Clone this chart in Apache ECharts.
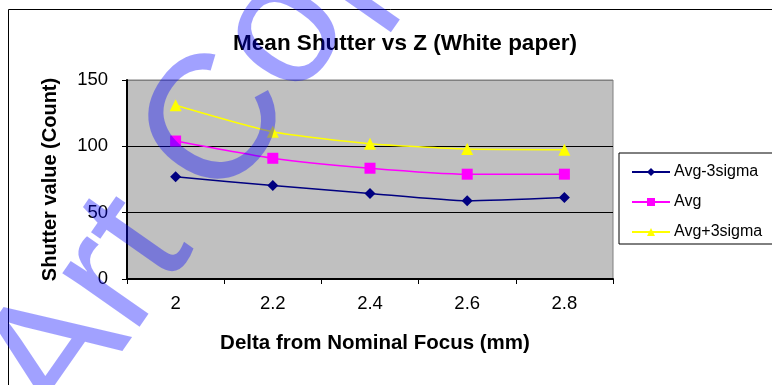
<!DOCTYPE html>
<html>
<head>
<meta charset="utf-8">
<style>
  html, body { margin: 0; padding: 0; background: #fff; }
  #chart { width: 772px; height: 385px; }
</style>
<script src="https://cdn.jsdelivr.net/npm/echarts@6/dist/echarts.min.js"></script>
</head>
<body>
<div id="chart"></div>
<script>
// Focus offsets (mm) along the category axis
const focusDelta = ['2', '2.2', '2.4', '2.6', '2.8'];

// Shutter values (count) per series
const avgMinus3Sigma = [77, 70.5, 64.5, 59, 61.5];
const avgValues = [104, 91, 83.5, 79, 79];
const avgPlus3Sigma = [131, 111, 102, 98, 97.5];

// Value axis ticks
const yTicks = [0, 50, 100, 150];

const FONT = 'Liberation Sans, Arial, sans-serif';

const chart = echarts.init(document.getElementById('chart'), null, { renderer: 'canvas' });

function lineSeries(name, data, color, symbol, size) {
  return {
    name: name,
    type: 'line',
    data: data,
    symbol: symbol,
    symbolSize: size,
    smooth: 0.2,
    lineStyle: { color: color, width: 1.5 },
    itemStyle: { color: color },
    emphasis: { disabled: true },
    z: 3
  };
}

chart.setOption({
  animation: false,
  backgroundColor: '#ffffff',
  title: {
    text: 'Mean Shutter vs Z (White paper)',
    left: 400,
    top: 27,
    textAlign: 'center',
    textStyle: { fontFamily: FONT, fontSize: 22.5, fontWeight: 'bold', color: '#000' }
  },
  legend: {
    orient: 'vertical',
    left: 619,
    top: 153,
    padding: [11, 60, 4, 12],
    itemGap: 14,
    itemWidth: 38,
    itemHeight: 10,
    borderColor: '#000',
    borderWidth: 1,
    backgroundColor: '#fff',
    selectedMode: false,
    textStyle: { fontFamily: FONT, fontSize: 16, color: '#000', padding: [0, 0, 0, -1] },
    data: ['Avg-3sigma', 'Avg', 'Avg+3sigma']
  },
  grid: {
    left: 127,
    top: 80,
    width: 486,
    height: 199,
    show: true,
    backgroundColor: '#c0c0c0',
    borderColor: '#808080',
    borderWidth: 1
  },
  xAxis: {
    type: 'category',
    data: focusDelta,
    boundaryGap: true,
    name: 'Delta from Nominal Focus (mm)',
    nameLocation: 'middle',
    nameGap: 54,
    nameTextStyle: { fontFamily: FONT, fontSize: 20.5, fontWeight: 'bold', color: '#000', padding: [0, 0, 0, 10] },
    axisLine: { lineStyle: { color: '#000', width: 2 } },
    axisTick: { show: true, alignWithLabel: false, length: 5, lineStyle: { color: '#000', width: 1 } },
    axisLabel: { fontFamily: FONT, fontSize: 18.5, color: '#000', margin: 15 },
    splitLine: { show: false }
  },
  yAxis: {
    type: 'value',
    min: yTicks[0],
    max: yTicks[yTicks.length - 1],
    interval: yTicks[1] - yTicks[0],
    name: 'Shutter value (Count)',
    nameLocation: 'middle',
    nameGap: 67,
    nameTextStyle: { fontFamily: FONT, fontSize: 20, fontWeight: 'bold', color: '#000' },
    axisLine: { show: true, lineStyle: { color: '#000', width: 2 } },
    axisTick: { show: true, length: 5, lineStyle: { color: '#000', width: 1 } },
    axisLabel: { fontFamily: FONT, fontSize: 18.5, color: '#000', margin: 19 },
    splitLine: { show: true, lineStyle: { color: ['#000', '#000', '#000', '#808080'], width: 1 } }
  },
  graphic: [
    {
      // outer chart frame
      type: 'rect',
      shape: { x: 8.5, y: 9.5, width: 820, height: 420 },
      style: { fill: 'none', stroke: '#000', lineWidth: 1 },
      silent: true,
      z: -1
    },
    {
      // diagonal watermark text
      type: 'text',
      x: 97,
      y: 457,
      rotation: 55 * Math.PI / 180,
      style: {
        text: 'Art Copy',
        font: 'normal 178px Liberation Sans, Arial, sans-serif',
        fill: 'rgba(0, 0, 255, 0.37)',
        textAlign: 'left',
        textVerticalAlign: 'bottom'
      },
      silent: true,
      z: 100
    }
  ],
  series: [
    lineSeries('Avg-3sigma', avgMinus3Sigma, '#000080', 'diamond', 11),
    lineSeries('Avg', avgValues, '#ff00ff', 'rect', 11),
    lineSeries('Avg+3sigma', avgPlus3Sigma, '#ffff00', 'triangle', 12)
  ]
});
</script>
</body>
</html>
